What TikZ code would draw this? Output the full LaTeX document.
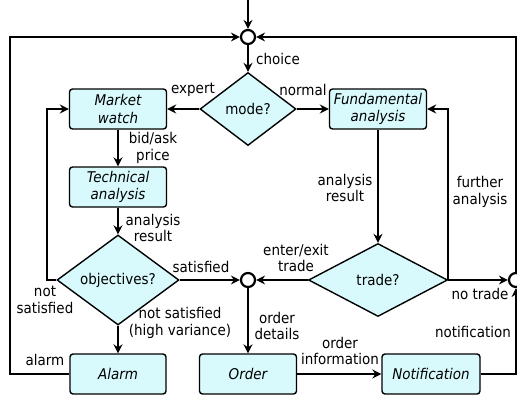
\documentclass[tikz,border=0pt]{standalone}
\usepackage{fontspec}
\setmainfont[FakeStretch=0.91]{DejaVu Sans}
\usetikzlibrary{shapes.geometric,arrows.meta}
\definecolor{boxfill}{RGB}{216,250,252}
\begin{document}
\begin{tikzpicture}[x=1pt,y=-1pt,
  font=\fontsize{14.8}{16.5}\selectfont,
  conn/.style={line width=2.2pt,-{Stealth[length=9pt,width=9pt,inset=3pt]}},
  procbox/.style={draw,line width=1.4pt,fill=boxfill,rounded corners=3pt,minimum width=97pt,minimum height=40pt,inner sep=0pt,align=center,font=\fontsize{14.8}{17.5}\selectfont\itshape},
  decision/.style={draw,line width=1.4pt,fill=boxfill,diamond,inner sep=0pt},
  junction/.style={draw,line width=2.2pt,fill=white,circle,minimum size=14pt,inner sep=0pt},
  lbl/.style={align=center,inner sep=0pt}]
\useasboundingbox (0,0) rectangle (517,397);
\coordinate (start) at (248,0);
\node[junction] (c1) at (248,37) {};
\node[decision,minimum width=96pt,minimum height=73pt] (mode) at (248,109) {mode?};
\node[procbox] (mw) at (118,109) {Market\\watch};
\node[procbox] (fa) at (378,109) {Fundamental\\analysis};
\node[procbox] (ta) at (118,187) {Technical\\analysis};
\node[decision,minimum width=122pt,minimum height=73pt] (obj) at (118,280) {objectives?};
\node[decision,minimum width=139pt,minimum height=73pt] (trade) at (378,280) {trade?};
\node[junction] (c2) at (248,280) {};
\node[junction] (c3) at (516,280) {};
\node[procbox,minimum width=96pt] (alarm) at (118,374) {Alarm};
\node[procbox] (order) at (248,374) {Order};
\node[procbox,minimum width=98pt] (notif) at (431,374) {Notification};
\coordinate (lx) at (10,374);
\coordinate (rx) at (516,37);
\coordinate (ox) at (47,280);
\coordinate (nx) at (516,374);

\draw[conn] (start) -- (c1);
\draw[conn] (c1) -- (mode.north);
\draw[conn] (mode.west) -- (mw.east);
\draw[conn] (mode.east) -- (fa.west);
\draw[conn] (mw.south) -- (ta.north);
\draw[conn] (ta.south) -- (obj.north);
\draw[conn] (obj.west) -- (ox) |- (mw.west);
\draw[conn] (obj.east) -- (c2.west);
\draw[conn] (obj.south) -- (alarm.north);
\draw[conn] (alarm.west) -- (lx) |- (c1.west);
\draw[conn] (trade.west) -- (c2.east);
\draw[conn] (c2.south) -- (order.north);
\draw[conn] (fa.south) -- (trade.north);
\draw[conn] (trade.east) -- (c3.west);
\draw[conn] (trade.east) |- (fa.east);
\draw[conn] (c3.north) -- (rx) -- (c1.east);
\draw[conn] (notif.east) -- (nx) -- (c3.south);
\draw[conn] (order.east) -- (notif.west);

\node[lbl] (l1) at (278,59) {choice};
\node[lbl] (l2) at (193,90) {expert};
\node[lbl] (l3) at (303,90) {normal};
\node[lbl] (l4) at (153,148) {bid/ask\\price};
\node[lbl] (l5) at (153,228) {analysis\\result};
\node[lbl] (l6) at (345,188) {analysis\\result};
\node[lbl] (l7) at (480,192) {further\\analysis};
\node[lbl] (l8) at (201,267) {satisfied};
\node[lbl] (l9) at (45,300) {not\\satisfied};
\node[lbl] (l10) at (180,323) {not satisfied\\(high variance)};
\node[lbl] (l11) at (45,360) {alarm};
\node[lbl] (l12) at (296,258) {enter/exit\\trade};
\node[lbl] (l13) at (480,294) {no trade};
\node[lbl] (l14) at (277,326) {order\\details};
\node[lbl] (l15) at (340,351) {order\\information};
\node[lbl] (l16) at (473,332) {notification};
\end{tikzpicture}
\end{document}
